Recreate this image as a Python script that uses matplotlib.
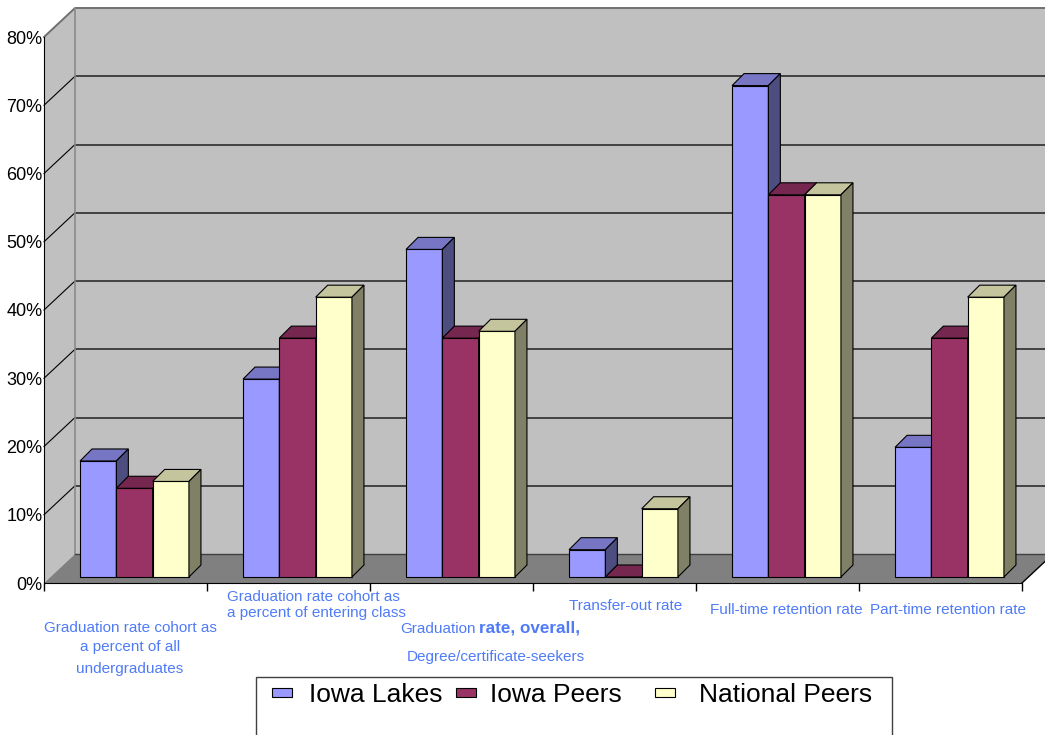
import matplotlib
matplotlib.use("Agg")
import matplotlib.pyplot as plt
from matplotlib import font_manager
from matplotlib.patches import Polygon, Rectangle
from matplotlib.colors import to_rgb

# ---- data -------------------------------------------------------------
categories = [
    "Graduation rate cohort as a percent of all undergraduates",
    "Graduation rate cohort as a percent of entering class",
    "Graduation rate, overall, Degree/certificate-seekers",
    "Transfer-out rate",
    "Full-time retention rate",
    "Part-time retention rate",
]
series_names = ["Iowa Lakes", "Iowa Peers", "National Peers"]
iowa_lakes = [17, 29, 48, 4, 72, 19]
iowa_peers = [13, 35, 35, 0, 56, 35]
national_peers = [14, 41, 36, 10, 56, 41]
y_ticks = [0, 10, 20, 30, 40, 50, 60, 70, 80]

series_values = [iowa_lakes, iowa_peers, national_peers]
series_colors = ["#9999FF", "#993366", "#FFFFCC"]

# ---- fonts ------------------------------------------------------------
installed = {f.name for f in font_manager.fontManager.ttflist}
NARROW = "Liberation Sans Narrow" if "Liberation Sans Narrow" in installed else "Liberation Sans"
NARROW_SIZE = 13 if NARROW == "Liberation Sans Narrow" else 11
plt.rcParams["font.family"] = ["Liberation Sans", "DejaVu Sans"]

W, H = 1045, 735
fig = plt.figure(figsize=(W / 100, H / 100), dpi=100)
fig.patch.set_facecolor("white")

# front plane of the plot box, in pixels
X0, X1, Y0, Y1 = 44, 1022, 583, 37
ax = fig.add_axes([X0 / W, 1 - Y0 / H, (X1 - X0) / W, (Y0 - Y1) / H])
ax.set_xlim(0, 6)
ax.set_ylim(0, 80)
ax.set_facecolor("none")

px_x = (X1 - X0) / 6.0
px_y = (Y0 - Y1) / 80.0

# depth of the walls and bars, expressed in data units
WALL_DX, WALL_DY = 31 / px_x, 29 / px_y
BAR_X0, BAR_Y0 = 9 / px_x, 6 / px_y
BAR_DX, BAR_DY = 12 / px_x, 12 / px_y
BAR_W = 36.3 / px_x

n = len(categories)

def poly(pts, fc, ec="none", lw=0.0, z=1.0):
    p = Polygon(pts, closed=True, facecolor=fc, edgecolor=ec, linewidth=lw,
                zorder=z, clip_on=False, joinstyle="miter")
    ax.add_patch(p)

# walls and floor
top = y_ticks[-1]
poly([(WALL_DX, WALL_DY), (n + WALL_DX, WALL_DY), (n + WALL_DX, top + WALL_DY),
      (WALL_DX, top + WALL_DY)], "#C0C0C0", z=0.5)
poly([(0, 0), (0, top), (WALL_DX, top + WALL_DY), (WALL_DX, WALL_DY)], "#C0C0C0", z=0.6)
poly([(0, 0), (n, 0), (n + WALL_DX, WALL_DY), (WALL_DX, WALL_DY)], "#808080", z=0.9)

for v in y_ticks[1:-1]:
    ax.plot([WALL_DX, n + WALL_DX], [v + WALL_DY, v + WALL_DY], color="#202020",
            lw=1.1, zorder=0.7, clip_on=False, solid_capstyle="butt")
for v in y_ticks[1:-1]:
    ax.plot([0, WALL_DX], [v, v + WALL_DY], color="black", lw=0.8, zorder=0.8,
            clip_on=False)
# wall outline
ax.plot([0, WALL_DX, n + WALL_DX], [top, top + WALL_DY, top + WALL_DY],
        color="#707070", lw=1.4, zorder=0.8, clip_on=False)
ax.plot([WALL_DX, WALL_DX], [WALL_DY, top + WALL_DY], color="#8a8a8a", lw=1.2,
        zorder=0.8, clip_on=False)
ax.plot([WALL_DX, n + WALL_DX], [WALL_DY, WALL_DY], color="#404040", lw=1.0,
        zorder=0.95, clip_on=False)
ax.plot([n, n + WALL_DX], [0, WALL_DY], color="black", lw=1.0, zorder=0.95,
        clip_on=False)

# bars: front faces via ax.bar, top and side faces as parallelograms
def shade(c, f):
    r, g, b = to_rgb(c)
    return (r * f, g * f, b * f)

for s, (vals, col) in enumerate(zip(series_values, series_colors)):
    lefts = [i + 0.5 + BAR_X0 + (s - 1.5) * BAR_W for i in range(n)]
    bars = ax.bar(lefts, vals, width=BAR_W, bottom=BAR_Y0, align="edge",
                  color=col, edgecolor="black", linewidth=0.8)
    for i, (rect, v) in enumerate(zip(bars, vals)):
        z = 2 + i * 0.1 + s * 0.01
        rect.set_zorder(z)
        rect.set_clip_on(False)
        x_l = rect.get_x()
        x_r = x_l + rect.get_width()
        y_b = rect.get_y()
        y_t = y_b + rect.get_height()
        poly([(x_l, y_t), (x_r, y_t), (x_r + BAR_DX, y_t + BAR_DY),
              (x_l + BAR_DX, y_t + BAR_DY)], shade(col, 0.77), "black", 0.8, z + 0.001)
        poly([(x_r, y_b), (x_r + BAR_DX, y_b + BAR_DY), (x_r + BAR_DX, y_t + BAR_DY),
              (x_r, y_t)], shade(col, 0.5), "black", 0.8, z + 0.001)

# axes
for side in ("top", "right"):
    ax.spines[side].set_visible(False)
ax.spines["left"].set_color("black")
ax.spines["bottom"].set_color("black")
ax.spines["left"].set_zorder(5)
ax.spines["bottom"].set_zorder(5)
ax.set_yticks(y_ticks)
ax.set_yticklabels([f"{v}%" for v in y_ticks], fontsize=13)
ax.tick_params(axis="y", length=0, pad=1)
ax.set_xticks(range(n + 1))
ax.set_xticklabels([])
ax.tick_params(axis="x", length=6, width=1, direction="out", color="black")

# category labels (staggered as in the original layout)
LABEL_COLOR = "#4f7bf7"

def ptext(x, y, s, ha="left", **kw):
    kw.setdefault("family", [NARROW, "DejaVu Sans"])
    kw.setdefault("fontsize", NARROW_SIZE)
    fig.text(x / W, 1 - y / H, s, ha=ha, va="center", color=LABEL_COLOR, **kw)

ptext(130, 628, "Graduation rate cohort as", ha="center")
ptext(130, 647, "a percent of all", ha="center")
ptext(130, 669, "undergraduates", ha="center")
ptext(227, 597, "Graduation rate cohort as")
ptext(227, 613, "a percent of entering class")
ptext(400, 629, "Graduation")
ptext(479, 628, "rate, overall,", weight="bold", family=["Liberation Sans", "DejaVu Sans"],
      fontsize=12.3)
ptext(407, 657, "Degree/certificate-seekers")
ptext(626, 606, "Transfer-out rate", ha="center")
ptext(710, 610, "Full-time retention rate")
ptext(870, 610, "Part-time retention rate")

# legend box
fig.patches.append(Rectangle((256 / W, 1 - 745 / H), (892 - 256) / W, (745 - 677) / H,
                             transform=fig.transFigure, facecolor="white",
                             edgecolor="#404040", linewidth=1.0))
legend_marks = [272, 456, 655]
legend_texts = [309, 490, 699]
for name, col, mx, tx in zip(series_names, series_colors, legend_marks, legend_texts):
    fig.patches.append(Rectangle((mx / W, 1 - 697 / H), 20 / W, 9 / H,
                                 transform=fig.transFigure, facecolor=col,
                                 edgecolor="black", linewidth=0.8))
    fig.text(tx / W, 1 - 692.5 / H, name, ha="left", va="center_baseline",
             fontsize=19, color="black")

fig.savefig("out.png", dpi=100)
